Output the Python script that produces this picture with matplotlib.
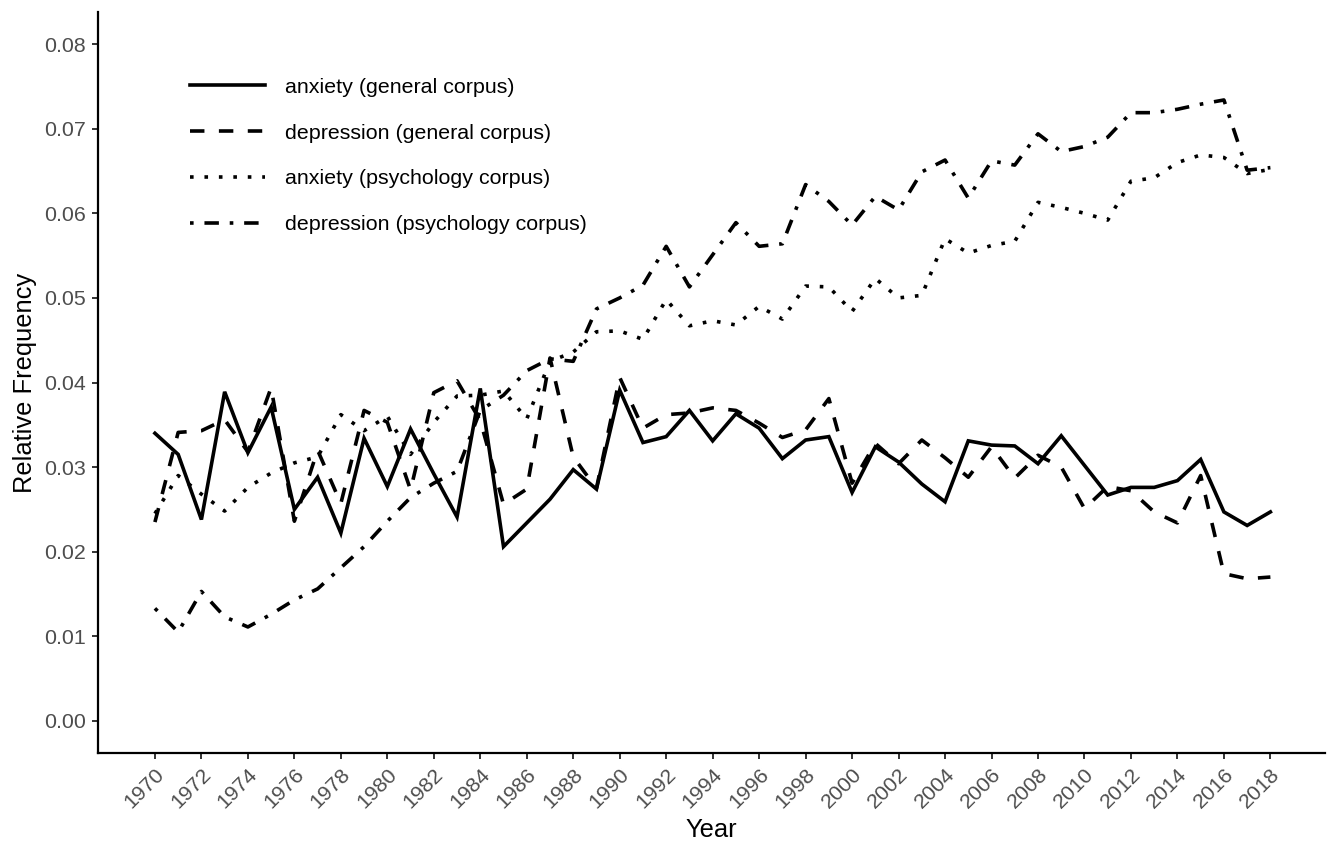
import matplotlib
matplotlib.use("Agg")
import matplotlib.pyplot as plt
import numpy as np

plt.rcParams['font.family'] = ['Liberation Sans', 'DejaVu Sans']

years = list(range(1970, 2019))

anxiety_general = [
    0.0340, 0.0315, 0.0238, 0.0389, 0.0317, 0.0371, 0.0250, 0.0288, 0.0222, 0.0334,
    0.0277, 0.0345, 0.0292, 0.0241, 0.0393, 0.0206, 0.0234, 0.0262, 0.0297, 0.0274,
    0.0391, 0.0329, 0.0336, 0.0367, 0.0331, 0.0363, 0.0346, 0.0310, 0.0332, 0.0336,
    0.0270, 0.0324, 0.0306, 0.0280, 0.0259, 0.0331, 0.0326, 0.0325, 0.0304, 0.0337,
    0.0302, 0.0267, 0.0276, 0.0276, 0.0284, 0.0309, 0.0247, 0.0231, 0.0247]

depression_general = [
    0.0235, 0.0341, 0.0343, 0.0356, 0.0318, 0.0394, 0.0236, 0.0320, 0.0257, 0.0367,
    0.0353, 0.0273, 0.0388, 0.0402, 0.0355, 0.0256, 0.0274, 0.0429, 0.0312, 0.0275,
    0.0406, 0.0346, 0.0362, 0.0364, 0.0370, 0.0367, 0.0352, 0.0335, 0.0344, 0.0381,
    0.0281, 0.0328, 0.0304, 0.0332, 0.0311, 0.0288, 0.0324, 0.0287, 0.0314, 0.0300,
    0.0251, 0.0277, 0.0272, 0.0247, 0.0234, 0.0290, 0.0174, 0.0168, 0.0170]

anxiety_psychology = [
    0.0245, 0.0290, 0.0268, 0.0248, 0.0276, 0.0293, 0.0305, 0.0312, 0.0362, 0.0343,
    0.0360, 0.0315, 0.0353, 0.0384, 0.0385, 0.0390, 0.0357, 0.0425, 0.0436, 0.0460,
    0.0461, 0.0451, 0.0498, 0.0467, 0.0473, 0.0468, 0.0490, 0.0475, 0.0514, 0.0513,
    0.0484, 0.0523, 0.0500, 0.0503, 0.0570, 0.0553, 0.0562, 0.0567, 0.0613, 0.0607,
    0.0600, 0.0592, 0.0638, 0.0642, 0.0660, 0.0669, 0.0666, 0.0647, 0.0652]

depression_psychology = [
    0.0133, 0.0105, 0.0153, 0.0123, 0.0111, 0.0126, 0.0143, 0.0156, 0.0181, 0.0206,
    0.0236, 0.0264, 0.0281, 0.0295, 0.0367, 0.0385, 0.0414, 0.0428, 0.0425, 0.0487,
    0.0500, 0.0515, 0.0561, 0.0513, 0.0551, 0.0589, 0.0561, 0.0564, 0.0634, 0.0614,
    0.0586, 0.0620, 0.0604, 0.0649, 0.0663, 0.0618, 0.0662, 0.0657, 0.0694, 0.0673,
    0.0679, 0.0690, 0.0719, 0.0719, 0.0723, 0.0729, 0.0734, 0.0651, 0.0654]

labels = ["anxiety (general corpus)", "depression (general corpus)",
          "anxiety (psychology corpus)", "depression (psychology corpus)"]
x_ticks = list(range(1970, 2019, 2))
y_ticks = [0.00, 0.01, 0.02, 0.03, 0.04, 0.05, 0.06, 0.07, 0.08]

W, H = 1332, 843
fig = plt.figure(figsize=(W / 100, H / 100), dpi=100)
ax = fig.add_axes([98 / W, 1 - 753 / H, (1325 - 98) / W, (753 - 12) / H])

lw = 2.6
styles = [
    dict(linestyle='-'),
    dict(linestyle=(0, (4, 4))),
    dict(linestyle=(0, (1, 3))),
    dict(linestyle=(0, (1, 3, 4, 3))),
]
series = [anxiety_general, depression_general, anxiety_psychology, depression_psychology]
for vals, lab, st in zip(series, labels, styles):
    ax.plot(years, vals, color='black', linewidth=lw, label=lab,
            dash_capstyle='butt', solid_joinstyle='miter', **st)

ax.set_xlim(1967.55, 2020.35)
ax.set_ylim(-0.0038, 0.0838)
ax.set_xticks(x_ticks)
ax.set_xticklabels([str(v) for v in x_ticks], rotation=45, ha='right', va='top',
                   rotation_mode='anchor')
ax.set_yticks(y_ticks)
ax.set_yticklabels([f"{v:.2f}" for v in y_ticks])

for s in ['top', 'right']:
    ax.spines[s].set_visible(False)
for s in ['left', 'bottom']:
    ax.spines[s].set_linewidth(1.6)
    ax.spines[s].set_color('black')

ax.tick_params(axis='both', which='major', length=4.5, width=1.4, color='#333333',
               labelcolor='#4D4D4D', labelsize=15.4, pad=4)

ax.set_xlabel("Year", fontsize=18.4, color='black', labelpad=4)
ax.set_ylabel("Relative Frequency", fontsize=18.4, color='black', labelpad=5.5)

leg = ax.legend(loc='center left', bbox_to_anchor=((190 - 98) / 1227, (753 - 156) / 741),
                frameon=False, fontsize=15.4, handlelength=3.5, handletextpad=0.93,
                labelspacing=1.25, borderpad=0, borderaxespad=0)

fig.savefig("out.png", dpi=100)
